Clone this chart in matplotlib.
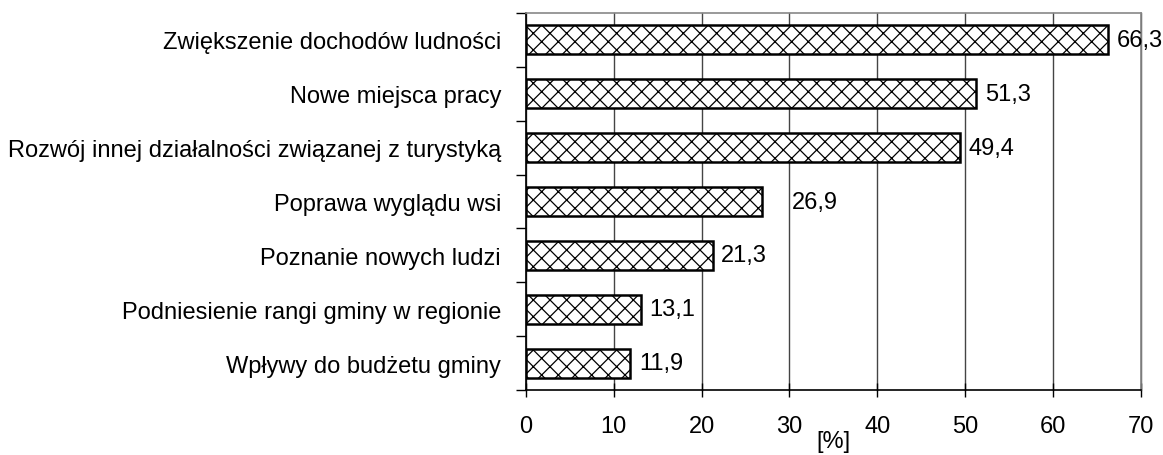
import matplotlib.pyplot as plt
import numpy as np

plt.rcParams['font.family'] = ['Liberation Sans', 'DejaVu Sans']
plt.rcParams['hatch.linewidth'] = 0.9

# dane z wykresu
kategorie = [
    'Zwiększenie dochodów ludności',
    'Nowe miejsca pracy',
    'Rozwój innej działalności związanej z turystyką',
    'Poprawa wyglądu wsi',
    'Poznanie nowych ludzi',
    'Podniesienie rangi gminy w regionie',
    'Wpływy do budżetu gminy',
]
wartosci = [66.3, 51.3, 49.4, 26.9, 21.3, 13.1, 11.9]
os_x = [0, 10, 20, 30, 40, 50, 60, 70]

fig = plt.figure(figsize=(11.63, 4.56), dpi=100)
ax = fig.add_axes([526 / 1163, 1 - 391 / 456, 614.5 / 1163, 377 / 456])

y = np.arange(len(kategorie))
ax.barh(y, wartosci, height=0.54, color='white', edgecolor='black',
        linewidth=1.8, hatch='xx', zorder=3)

# etykiety wartosci
for i, v in enumerate(wartosci):
    dx = 0.95
    if i == 3:
        dx = 3.4  # w oryginale etykieta odsunieta
    ax.text(v + dx, i, ('%.1f' % v).replace('.', ','), va='center', ha='left',
            fontsize=17, zorder=4, clip_on=False)

ax.set_ylim(len(kategorie) - 0.5, -0.5)
ax.set_xlim(0, 70)
ax.set_xticks(os_x)
ax.set_xticklabels([str(t) for t in os_x], fontsize=17)
ax.set_yticks(y)
ax.set_yticklabels(kategorie, fontsize=17)
ax.set_yticks(np.arange(-0.5, len(kategorie)), minor=True)
ax.tick_params(axis='y', which='major', length=0, pad=18)
ax.tick_params(axis='y', which='minor', length=7, direction='out', width=1)
ax.tick_params(axis='x', length=10, direction='inout', width=1, pad=13)

ax.xaxis.grid(True, color='#444444', linewidth=1, zorder=0)
for g in ax.get_xgridlines():
    g.set_clip_on(False)
ax.spines['top'].set_color('#888888')
ax.spines['right'].set_color('#888888')
ax.spines['top'].set_linewidth(1.2)
ax.spines['right'].set_linewidth(1.2)
ax.spines['left'].set_linewidth(1.2)
ax.spines['bottom'].set_linewidth(1.2)

ax.set_xlabel('[%]', fontsize=17, labelpad=-5)

plt.savefig('out.png', dpi=100)
